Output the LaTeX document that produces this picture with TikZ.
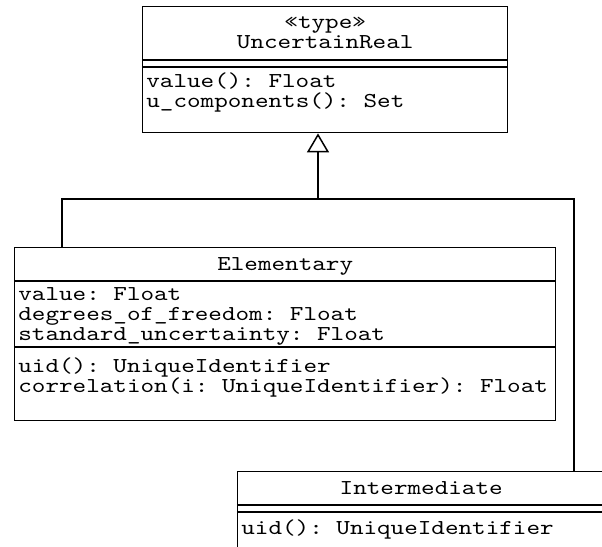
\documentclass[tikz,border=0pt]{standalone}
\usepackage{fontspec}
\setmonofont{lmmono10-regular.otf}[FakeStretch=1.22]
\usetikzlibrary{arrows.meta}

% fixed 20px line pitch inside the compartments
\newcommand{\umltext}{\ttfamily\fontsize{10.6pt}{10pt}\selectfont\lineskiplimit=-\maxdimen}

\begin{document}
\begin{tikzpicture}
  [
    x=0.5pt, y=-0.5pt,
    every node/.style={font=\umltext, inner sep=0pt},
    umlclass/.style={draw, rectangle, line width=0.7pt, anchor=north west},
    rule/.style={line width=0.7pt},
    classname/.style={anchor=base, align=center},
    members/.style={anchor=base west, align=left},
    link/.style={line width=0.75pt},
    generalises/.style={link, -{Triangle[open, length=9.5pt, width=11pt]}}
  ]
  \useasboundingbox (0,0) rectangle (602,547);
  \clip (0,0) rectangle (602,547);
  \fill[white] (0,0) rectangle (602,547);

  % UncertainReal (anchors sit on the last line)
  \node[umlclass, minimum width=182.5pt, minimum height=63pt] (real) at (142,6) {};
  \foreach \y in {60,67} {
    \draw[rule] (real.west |- 0,\y) -- (real.east |- 0,\y);
  }
  \node[classname] (realname) at (real.north |- 0,48) {«type»\\UncertainReal};
  \node[members] (realops) at (146,107) {value(): Float\\u\_components(): Set};

  % Elementary
  \node[umlclass, minimum width=270.5pt, minimum height=86.5pt] (elem) at (14,247) {};
  \foreach \y in {281,347} {
    \draw[rule] (elem.west |- 0,\y) -- (elem.east |- 0,\y);
  }
  \node[classname] (elemname) at (elem.north |- 0,270) {Elementary};
  \node[members] (elemattrs) at (18,340)
    {value: Float\\degrees\_of\_freedom: Float\\standard\_uncertainty: Float};
  \node[members] (elemops) at (18,392)
    {uid(): UniqueIdentifier\\correlation(i: UniqueIdentifier): Float};

  % Intermediate
  \node[umlclass, minimum width=183.5pt, minimum height=50pt] (inter) at (237,471) {};
  \foreach \y in {505,512} {
    \draw[rule] (inter.west |- 0,\y) -- (inter.east |- 0,\y);
  }
  \node[classname] (intername) at (inter.north |- 0,494) {Intermediate};
  \node[members] (interops) at (241,534) {uid(): UniqueIdentifier};

  % generalisation
  \coordinate (lbend) at (62,199);
  \coordinate (rbend) at (574,199);
  \coordinate (fork) at (318,199);
  \draw[link] (elem.north -| lbend) -- (lbend) -- (rbend) -- (inter.north -| rbend);
  \draw[generalises] (fork) -- (fork |- real.south);
\end{tikzpicture}
\end{document}
